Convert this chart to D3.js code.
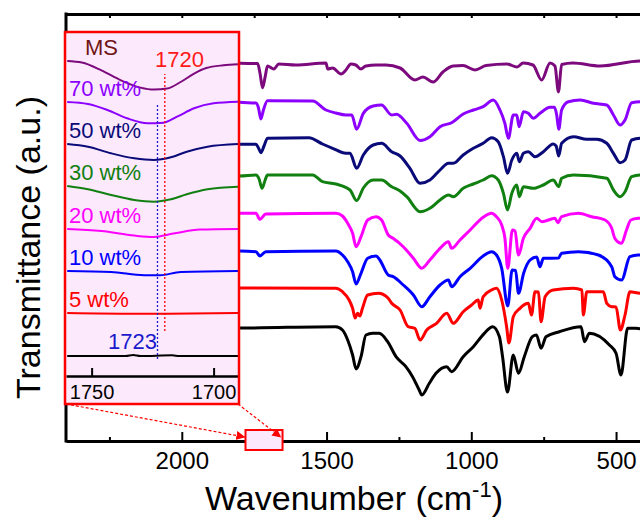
<!DOCTYPE html>
<html>
<head>
<meta charset="utf-8">
<script src="https://cdn.jsdelivr.net/npm/d3@7"></script>
<style>
  body { margin: 0; background: #fff; }
  text { font-family: Arial, "Liberation Sans", sans-serif; }
</style>
</head>
<body>
<div id="chart"></div>
<script>
// series, top to bottom
var seriesLabels = ["MS", "70 wt%", "50 wt%", "30 wt%", "20 wt%", "10 wt%", "5 wt%", ""];
var seriesColors = ["#7d0a7d", "#8c00ff", "#0a0a78", "#118011", "#ff00ff", "#0000ff", "#ff0000", "#000000"];

// vertical offsets (a.u.) of each stacked spectrum
var mainOffsets = [378, 339, 297, 264, 228, 190, 153, 113];
var insetOffsets = [343, 302, 260, 218, 175, 133, 91, 48];

// main spectra: [wavenumber, drop below offset]
var specMS = [[1810,0],[1800,0.3],[1738,0.5],[1730,10],[1721,24.7],[1712,13.7],[1704,3],[1682,6],[1665,1],[1606,2],[1502,0],[1496,6],[1479,5],[1450,11],[1433,7],[1416,1],[1399,2],[1381,6],[1364,3],[1329,2],[1295,2],[1246,5],[1195,17],[1167,14],[1132,19],[1098,9],[1063,3],[1029,2.5],[987,7],[949,2.5],[877,1],[842,4],[821,0],[787,2],[757,17],[728,0],[711,3],[699,29],[688,1.5],[649,0],[555,3],[417,-2],[400,-2]];
var spec70 = [[1810,0],[1800,0.3],[1744,1],[1735,6],[1727,17],[1718,8],[1704,-1.3],[1548,-1],[1502,8],[1468,11],[1433,13],[1413,13],[1396,27.3],[1373,11.3],[1339,4],[1310,3],[1275,13],[1258,12.3],[1223,21.3],[1177,38.5],[1143,34.7],[1108,24.7],[1068,20.7],[1028,12],[993,8],[959,4.7],[924,-2],[901,8],[884,21.3],[872,36.3],[855,13],[843,13],[835,24.7],[820,9.7],[803,11.3],[786,16.3],[763,11.3],[728,5.3],[713,5.3],[705,13],[698,27.3],[688,8],[665,-0.3],[624,-2],[578,1.3],[532,3],[509,13],[486,23],[469,18],[446,0.7],[417,-0.3],[400,-0.3]];
var spec50 = [[1810,0],[1800,0.3],[1744,0.3],[1735,4],[1727,8.7],[1716,2],[1704,-5.7],[1561,-6.3],[1514,0],[1479,4.3],[1433,9.3],[1419,9.3],[1396,24.3],[1373,11],[1339,1],[1310,-0.7],[1275,7.7],[1246,12],[1212,24.3],[1177,39.3],[1143,36],[1108,26],[1079,19.3],[1062,19.3],[1028,11],[993,4.3],[959,-0.7],[930,-6.3],[907,-2.3],[889,12.7],[875,29.3],[860,16],[843,9.3],[834,17.7],[820,9.3],[803,7.7],[780,12.7],[751,7.7],[717,0],[707,2],[698,12],[688,-0.7],[647,-7.3],[601,-4.7],[567,-4.7],[532,-0.7],[509,9.3],[486,18.7],[469,16],[446,-4],[417,-5.7],[400,-5.7]];
var spec30 = [[1810,-1],[1800,-1],[1744,-2],[1733,2],[1723,11.3],[1712,3],[1704,-2],[1548,-2],[1514,4.7],[1468,7],[1419,13],[1396,23.5],[1373,11],[1339,3],[1310,3],[1275,9.7],[1246,14],[1223,19.7],[1177,34.7],[1143,31.3],[1108,23],[1079,18],[1062,19.7],[1028,11.3],[993,7],[959,3],[930,-1.3],[907,3],[889,16.3],[875,33],[860,16.3],[843,8],[834,19.7],[820,9.7],[786,11.3],[751,8],[717,3],[698,9.7],[688,1.3],[647,-2],[532,1.3],[509,13],[486,19.7],[469,14.7],[446,-0.3],[417,-2],[400,-2]];
var spec20 = [[1810,0],[1800,0.3],[1744,0.3],[1730,6.3],[1710,1],[1468,0.3],[1445,3],[1427,10.3],[1410,20.3],[1398,33.7],[1381,23.7],[1358,7],[1329,3.7],[1310,7],[1287,22],[1270,25.3],[1235,33.7],[1200,45.3],[1171,55.3],[1143,47],[1108,35.3],[1079,28.7],[1068,35.3],[1039,27],[1004,17],[959,4.3],[930,0.3],[913,3.7],[895,12],[884,25],[874,55.3],[858,17],[849,18],[837,42],[820,25.3],[797,15.3],[774,5.3],[756,8.7],[711,5.3],[701,9.7],[688,3.7],[630,0.3],[584,3.7],[538,7],[515,15.3],[504,25.3],[481,30.3],[464,17],[449,7],[424,5.3],[400,5]];
var spec10 = [[1810,0],[1800,0],[1744,0.7],[1730,5],[1710,0.7],[1468,0],[1445,4],[1427,10.7],[1410,20.7],[1398,33],[1381,22.3],[1358,7.3],[1329,5],[1316,9],[1287,24],[1270,25.7],[1235,34],[1200,44],[1171,55.7],[1143,45.7],[1108,34],[1079,29],[1068,35.7],[1039,25.7],[1004,17.3],[959,5],[930,0.7],[913,4],[895,17.3],[874,55],[859,19],[847,19.5],[837,42.3],[819,22],[797,9],[774,6],[763,15.7],[751,7.3],[699,7],[688,2.3],[630,0.7],[561,4],[515,15.7],[504,25.7],[481,29],[452,5.7],[424,4],[400,4]];
var spec5 = [[1810,0],[1800,0],[1468,0.3],[1445,3.7],[1422,12],[1410,20.3],[1401,30],[1393,25.3],[1385,28],[1376,20.3],[1358,7],[1321,5.3],[1287,10.3],[1275,15.3],[1246,22],[1218,38.7],[1195,40.3],[1177,52],[1154,42],[1120,35.3],[1085,25.3],[1062,35.3],[1028,23.7],[999,17],[976,12],[970,20.3],[959,8.7],[930,2],[913,0.3],[895,12],[878,38.7],[870,55],[855,28.7],[832,20.3],[803,15.3],[792,27],[780,3.7],[768,4],[759,33.7],[745,8.7],[717,2],[647,0.3],[618,2],[613,27],[601,3.7],[544,3.7],[532,15.3],[515,18.7],[500,19],[485,42],[469,27],[452,3.7],[417,5.3],[400,5.3]];
var specBlack = [[1810,0],[1800,0],[1468,-1.3],[1445,2],[1427,12],[1410,27],[1398,41],[1381,28.7],[1364,7],[1341,5.3],[1318,5.3],[1289,13.7],[1260,28.7],[1226,38.7],[1203,48.7],[1180,62],[1171,67],[1145,55.3],[1122,45.3],[1085,38.7],[1068,43.7],[1028,28.7],[993,18.7],[955,5.3],[926,-1.3],[903,8.7],[892,28.7],[875,64],[855,27],[837,45.3],[817,28.7],[789,8.7],[775,7],[759,20.3],[742,8.7],[696,3.7],[621,-1.3],[609,13.7],[592,5.3],[523,17],[500,25.3],[483,47],[460,0.3],[431,0.3],[400,2]];
var mainSpectra = [specMS, spec70, spec50, spec30, spec20, spec10, spec5, specBlack];

// inset (1760-1690 cm-1) spectra
var insetMS = [[1760,0],[1754,1.6],[1746,9.3],[1738,19.3],[1730,26.6],[1724.5,28.6],[1719,27.6],[1713.5,21],[1708,12.6],[1703,7],[1696,4.3],[1690,3.3]];
var inset70 = [[1760,0],[1751.5,2],[1743.5,8],[1735.5,16.3],[1727,21.3],[1720.5,20.7],[1715,14.7],[1708,6.3],[1700,1.3],[1690,-0.3]];
var inset50 = [[1760,0],[1751.5,2.7],[1742,9.3],[1732.5,14.3],[1724.5,16],[1717.5,13.3],[1711,7.7],[1702.5,2.7],[1690,0]];
var inset30 = [[1760,0],[1751.5,3.3],[1742,9],[1732.5,14],[1724.5,15.7],[1717.5,13.3],[1711,8.3],[1702.5,3.3],[1690,0.7]];
var inset20 = [[1760,0],[1746,2],[1732.5,6.6],[1724.5,8],[1716.5,4.6],[1705.5,0.6],[1690,0]];
var inset10 = [[1760,0],[1742,1],[1728.5,4.3],[1722,4.3],[1713.5,1],[1690,0]];
var inset5 = [[1760,0],[1732.5,0.7],[1722,0.7],[1690,0]];
var insetBlack = [[1760,0],[1736,0],[1733,-1],[1730,0],[1717,-0.7],[1714,0],[1690,0]];
var insetSpectra = [insetMS, inset70, inset50, inset30, inset20, inset10, inset5, insetBlack];

// ticks
var majorTicks = [2000, 1500, 1000, 500];
var minorTicks = [2250, 1750, 1250, 750];
var insetTicks = [1750, 1700];
var peakMarks = [{wn: 1720, color: "#ff0000", from: 73, to: 330, label: "1720"},
                 {wn: 1723, color: "#1a1acc", from: 45, to: 301, label: "1723"}];

var svgWidth = 640, svgHeight = 518;

var svg = d3.select("#chart").append("svg")
    .attr("width", svgWidth)
    .attr("height", svgHeight);

var x = d3.scaleLinear().domain([2400, 400]).range([66, 645]);
var y = d3.scaleLinear().domain([0, 427]).range([441, 14]);

// main axes
var bottomAxis = svg.append("g")
    .attr("transform", `translate(0,${y(0)})`)
    .call(d3.axisBottom(x).tickValues(majorTicks).tickSize(-9).tickSizeOuter(0)
        .tickPadding(11).tickFormat(d3.format("d")));
bottomAxis.select(".domain").attr("stroke-width", 3);
bottomAxis.selectAll(".tick line").attr("stroke-width", 2);
bottomAxis.selectAll("text").attr("font-size", 24).attr("fill", "#000");

var bottomMinor = svg.append("g")
    .attr("transform", `translate(0,${y(0)})`)
    .call(d3.axisBottom(x).tickValues(minorTicks).tickSize(-4).tickFormat(""));
bottomMinor.select(".domain").remove();
bottomMinor.selectAll(".tick line").attr("stroke-width", 2);

var topAxis = svg.append("g")
    .attr("transform", `translate(0,${y(427)})`)
    .call(d3.axisTop(x).tickValues(majorTicks.concat(minorTicks)).tickSize(-4).tickSizeOuter(0).tickFormat(""));
topAxis.select(".domain").attr("stroke-width", 3);
topAxis.selectAll(".tick line").attr("stroke-width", 2);

svg.append("line")
    .attr("x1", x(2400)).attr("x2", x(2400))
    .attr("y1", y(427) - 1.5).attr("y2", y(0) + 1.5)
    .attr("stroke", "#000").attr("stroke-width", 3);

// main spectra
var mainLine = d3.line().curve(d3.curveMonotoneX);
mainSpectra.forEach(function(spec, i) {
    svg.append("path")
        .datum(spec)
        .attr("fill", "none")
        .attr("stroke", seriesColors[i])
        .attr("stroke-width", 3)
        .attr("stroke-linejoin", "round")
        .attr("d", mainLine.x(d => x(d[0])).y(d => y(mainOffsets[i] - d[1])));
});

// axis titles
svg.append("text")
    .attr("transform", `translate(40,${(y(0) + y(427)) / 2 + 20}) rotate(-90)`)
    .attr("text-anchor", "middle")
    .attr("font-size", 34)
    .text("Transmittance (a.u.)");

var xTitle = svg.append("text")
    .attr("x", 354)
    .attr("y", 510)
    .attr("text-anchor", "middle")
    .attr("font-size", 34);
xTitle.append("tspan").text("Wavenumber (cm");
xTitle.append("tspan").attr("font-size", 22).attr("dy", -13).text("-1");
xTitle.append("tspan").attr("dy", 13).text(")");

// ---------------- inset ----------------
var ix = d3.scaleLinear().domain([1760.5, 1690]).range([66, 238]);
var iy = d3.scaleLinear().domain([0, 372]).range([404, 32]);

var inset = svg.append("g");
inset.append("rect")
    .attr("x", ix.range()[0] - 1).attr("y", iy(372))
    .attr("width", ix.range()[1] - ix.range()[0] + 2)
    .attr("height", iy(0) - iy(372))
    .attr("fill", "#fce9fc");

var insetLine = d3.line().curve(d3.curveMonotoneX);
insetSpectra.forEach(function(spec, i) {
    inset.append("path")
        .datum(spec)
        .attr("fill", "none")
        .attr("stroke", seriesColors[i])
        .attr("stroke-width", 2)
        .attr("d", insetLine.x(d => ix(d[0])).y(d => iy(insetOffsets[i] - d[1])));
});

// dotted peak guides
peakMarks.forEach(function(p) {
    inset.append("line")
        .attr("x1", ix(p.wn)).attr("x2", ix(p.wn))
        .attr("y1", iy(p.from)).attr("y2", iy(p.to))
        .attr("stroke", p.color)
        .attr("stroke-width", 1.3)
        .attr("stroke-dasharray", "2,2");
});

inset.append("text").attr("x", 155).attr("y", 67)
    .attr("font-size", 22).attr("fill", "#ff1a1a").text(peakMarks[0].label);
inset.append("text").attr("x", 108).attr("y", 349)
    .attr("font-size", 22).attr("fill", "#1a1acc").text(peakMarks[1].label);

// series labels
seriesLabels.forEach(function(lab, i) {
    if (!lab) return;
    inset.append("text")
        .attr("x", i === 0 ? 85 : 69)
        .attr("y", iy(insetOffsets[i]) - 6)
        .attr("font-size", 22)
        .attr("fill", i === 0 ? "#701515" : seriesColors[i])
        .text(lab);
});

// inset axis
var insetAxis = inset.append("g")
    .attr("transform", `translate(0,${iy(28)})`)
    .call(d3.axisBottom(ix).tickValues(insetTicks).tickSize(-8).tickSizeOuter(0)
        .tickPadding(9).tickFormat(d3.format("d")));
insetAxis.select(".domain").attr("stroke-width", 2.5);
insetAxis.selectAll(".tick line").attr("stroke-width", 2);
insetAxis.selectAll("text").attr("font-size", 20).attr("fill", "#000");

inset.append("rect")
    .attr("x", ix.range()[0] - 1).attr("y", iy(372))
    .attr("width", ix.range()[1] - ix.range()[0] + 2)
    .attr("height", iy(0) - iy(372))
    .attr("fill", "none")
    .attr("stroke", "#ff0000")
    .attr("stroke-width", 2.5);

// zoom box on the main axis
var zoomBox = [1780, 1652];
svg.append("rect")
    .attr("x", x(zoomBox[0])).attr("y", y(0) - 11)
    .attr("width", x(zoomBox[1]) - x(zoomBox[0]))
    .attr("height", 20)
    .attr("fill", "#fce9fc")
    .attr("stroke", "#ff0000")
    .attr("stroke-width", 2);

svg.append("defs").append("marker")
    .attr("id", "arrow")
    .attr("viewBox", "0 0 10 10")
    .attr("refX", 9).attr("refY", 5)
    .attr("markerWidth", 9).attr("markerHeight", 9)
    .attr("orient", "auto")
    .attr("markerUnits", "userSpaceOnUse")
    .append("path").attr("d", "M0,0L10,5L0,10z").attr("fill", "#ff0000");

[[ix.range()[0], x(zoomBox[0]) - 1], [ix.range()[1], x(zoomBox[1]) - 2]].forEach(function(a) {
    svg.append("line")
        .attr("x1", a[0]).attr("y1", iy(0))
        .attr("x2", a[1]).attr("y2", y(0) - 4)
        .attr("stroke", "#ff0000")
        .attr("stroke-width", 1.2)
        .attr("stroke-dasharray", "3,2")
        .attr("marker-end", "url(#arrow)");
});
</script>
</body>
</html>
